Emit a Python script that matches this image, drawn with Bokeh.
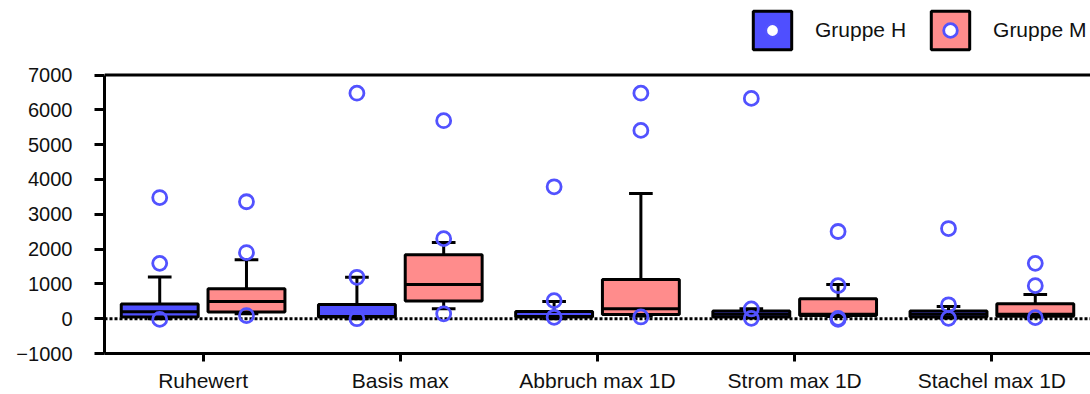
from bokeh.plotting import figure
from bokeh.models import Range1d, FixedTicker, Span, Legend, LegendItem
from bokeh.embed import file_html
from bokeh.resources import INLINE

categories = ["Ruhewert", "Basis max", "Abbruch max 1D", "Strom max 1D", "Stachel max 1D"]

# Gruppe H
h_lower = [0, 0, 0, 20, 20]
h_q1 = [50, 50, 50, 50, 50]
h_median = [200, 60, 60, 130, 130]
h_q3 = [420, 410, 210, 220, 220]
h_upper = [1200, 1190, 495, 286, 350]
h_points = [[3480, 1590, -20], [6480, 1190, 0], [3790, 520, 40], [6330, 280, 10], [2590, 400, 10]]

# Gruppe M
m_lower = [140, 286, 76, 60, 50]
m_q1 = [190, 505, 124, 95, 70]
m_median = [495, 980, 286, 130, 130]
m_q3 = [857, 1840, 1124, 571, 430]
m_upper = [1695, 2190, 3600, 980, 695]
m_points = [[3360, 1900, 90], [5690, 2300, 140], [6480, 5410, 50], [2505, 950, 10, -20], [1590, 950, 30]]

series_names = ["Gruppe H", "Gruppe M"]
y_ticks = [-1000, 0, 1000, 2000, 3000, 4000, 5000, 6000, 7000]
y_min, y_max = -1000, 7000

BLUE = "#4F4FFF"
PINK = "#FF8C8C"
RING = "#5252FF"
FONT = "Liberation Sans"
LW = 3
NAN = float("nan")

# frame: 355 px tall; axis part (y_min..y_max) occupies the lower 280 px,
# the upper 75 px holds the legend
frame_h, axis_h = 355, 280
y_top = y_min + (y_max - y_min) * frame_h / axis_h

p = figure(width=1090, height=394, output_backend="svg", toolbar_location=None,
           x_range=Range1d(-0.5, 4.5), y_range=Range1d(y_min, y_top),
           min_border_left=104, min_border_right=0, min_border_top=0, min_border_bottom=39)
p.outline_line_color = None
p.grid.visible = False
p.background_fill_color = "white"
p.border_fill_color = "white"

zero = Span(location=0, dimension="width", line_color="black", line_width=3,
            line_dash="3 2", level="underlay")
p.add_layout(zero)
top_line = Span(location=y_max, dimension="width", line_color="black", line_width=LW)
p.add_layout(top_line)

box_w = 0.39
cap_w = 0.12
groups = [
    (-0.22, BLUE, h_lower, h_q1, h_median, h_q3, h_upper, h_points),
    (0.22, PINK, m_lower, m_q1, m_median, m_q3, m_upper, m_points),
]
for off, color, lo, q1, med, q3, up, pts in groups:
    xs = [i + off for i in range(len(categories))]
    p.segment(x0=xs, y0=q3, x1=xs, y1=up, line_color="black", line_width=LW)
    p.segment(x0=xs, y0=q1, x1=xs, y1=lo, line_color="black", line_width=LW)
    p.segment(x0=[x - cap_w / 2 for x in xs], y0=up, x1=[x + cap_w / 2 for x in xs], y1=up,
              line_color="black", line_width=LW)
    p.segment(x0=[x - cap_w / 2 for x in xs], y0=lo, x1=[x + cap_w / 2 for x in xs], y1=lo,
              line_color="black", line_width=LW)
    p.vbar(x=xs, width=box_w, bottom=q1, top=q3, fill_color=color, line_color="black", line_width=LW)
    p.segment(x0=[x - box_w / 2 for x in xs], y0=med, x1=[x + box_w / 2 for x in xs], y1=med,
              line_color="black", line_width=LW)

for off, color, lo, q1, med, q3, up, pts in groups:
    px, py = [], []
    for i, vals in enumerate(pts):
        for v in vals:
            px.append(i + off)
            py.append(v)
    p.scatter(px, py, size=14, fill_alpha=0, line_color=RING, line_width=2.8)

# legend proxies (NaN data: drawn only in the legend)
dh_box = p.vbar(x=[NAN], top=[NAN], width=0.3, fill_color=BLUE, line_color="black", line_width=LW)
dm_box = p.vbar(x=[NAN], top=[NAN], width=0.3, fill_color=PINK, line_color="black", line_width=LW)
dh_pt = p.scatter(x=[NAN], y=[NAN], fill_color="white", line_color=RING, line_width=2.8)
dm_pt = p.scatter(x=[NAN], y=[NAN], fill_color="white", line_color=RING, line_width=2.8)

# legend with the coloured boxes and labels (box = 80% of glyph area)
legend = Legend(items=[LegendItem(label=series_names[0], renderers=[dh_box]),
                       LegendItem(label=series_names[1], renderers=[dm_box])],
                orientation="horizontal", location=(644, 299),
                glyph_width=48, glyph_height=48, label_standoff=19, spacing=20,
                padding=0, margin=0, border_line_color=None, background_fill_alpha=0,
                label_text_font=FONT, label_text_font_size="21px", label_text_color="#111111")
p.add_layout(legend)

# overlay legend with the point symbols centred on the boxes
dots = Legend(items=[LegendItem(label=" ", renderers=[dh_pt]),
                     LegendItem(label=" ", renderers=[dm_pt])],
              orientation="horizontal", location=(651, 306),
              glyph_width=34, glyph_height=34, label_standoff=0, label_width=0, label_height=0,
              spacing=144, padding=0, margin=0, border_line_color=None, background_fill_alpha=0,
              label_text_font=FONT, label_text_font_size="1px")
p.add_layout(dots)

# axes
xa = p.xaxis[0]
xa.ticker = FixedTicker(ticks=list(range(len(categories))))
xa.major_label_overrides = {i: c for i, c in enumerate(categories)}
ya = p.yaxis[0]
ya.ticker = FixedTicker(ticks=y_ticks)
ya.bounds = (y_min, y_max)
for ax in (xa, ya):
    ax.axis_line_width = LW
    ax.axis_line_color = "black"
    ax.major_tick_line_width = LW
    ax.major_tick_line_color = "black"
    ax.major_tick_in = 0
    ax.minor_tick_line_color = None
    ax.major_label_text_font = FONT
    ax.major_label_text_color = "#111111"
xa.major_label_text_font_size = "21px"
ya.major_label_text_font_size = "20px"
xa.major_tick_out = 8
xa.major_label_standoff = 7
ya.major_tick_out = 10
ya.major_label_standoff = 22

open("out.html", "w").write(file_html(p, INLINE))
